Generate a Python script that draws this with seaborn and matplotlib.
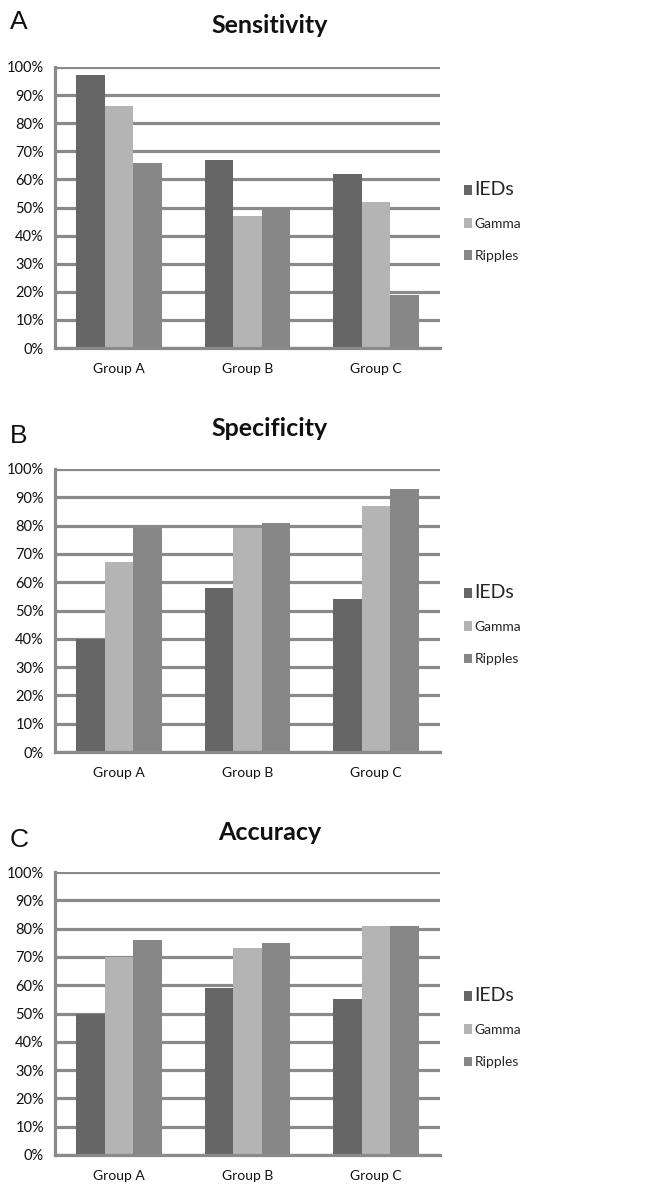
import pandas as pd
import seaborn as sns
import matplotlib.pyplot as plt
from matplotlib.ticker import FuncFormatter, MultipleLocator

# values (percent)
groups = ['Group A', 'Group B', 'Group C']
measures = ['IEDs', 'Gamma', 'Ripples']

sens_ieds = [97, 67, 62]
sens_gamma = [86, 47, 52]
sens_ripples = [66, 50, 19]

spec_ieds = [40, 58, 54]
spec_gamma = [67, 79, 87]
spec_ripples = [79, 81, 93]

acc_ieds = [50, 59, 55]
acc_gamma = [70, 73, 81]
acc_ripples = [76, 75, 81]

panels = [
    ('A', 'Sensitivity', [sens_ieds, sens_gamma, sens_ripples]),
    ('B', 'Specificity', [spec_ieds, spec_gamma, spec_ripples]),
    ('C', 'Accuracy', [acc_ieds, acc_gamma, acc_ripples]),
]

colors = ['#666666', '#b4b4b4', '#878787']
grid_col = '#8a8a8a'

sns.set_theme(style='white')
plt.rcParams['font.family'] = ['Lato', 'DejaVu Sans']

W, H = 652, 1192
fig = plt.figure(figsize=(W / 100, H / 100), dpi=100)

# axes boxes in pixels: (left, top, right, bottom)
boxes = [(55, 67, 440, 348), (55, 469, 440, 752), (55, 872, 440, 1155)]
title_base = [33, 436, 840]
letter_base = [29, 443, 847]

for (letter, title, series), (l, t, r, b), tb, lb in zip(panels, boxes, title_base, letter_base):
    ax = fig.add_axes([l / W, 1 - b / H, (r - l) / W, (b - t) / H])
    rows = []
    for m, vals in zip(measures, series):
        for g, v in zip(groups, vals):
            rows.append({'Group': g, 'Measure': m, 'Value': v})
    df = pd.DataFrame(rows)

    sns.barplot(data=df, x='Group', y='Value', hue='Measure', order=groups,
                hue_order=measures, palette=colors, width=0.67, gap=0,
                saturation=1, linewidth=0, ax=ax)

    ax.set_xlim(-0.5, 2.5)
    ax.set_ylim(0, 100)
    ax.yaxis.set_major_locator(MultipleLocator(10))
    ax.yaxis.set_major_formatter(FuncFormatter(lambda v, p: f'{v:.0f}%'))
    ax.set_axisbelow(True)
    ax.grid(axis='y', color=grid_col, linewidth=2.3)
    ax.grid(axis='x', visible=False)
    for s in ['top', 'right']:
        ax.spines[s].set_visible(False)
    for s in ['left', 'bottom']:
        ax.spines[s].set_color(grid_col)
        ax.spines[s].set_linewidth(2.3)
    ax.tick_params(axis='y', length=0, pad=8, labelsize=10.5, labelcolor='#111111')
    ax.tick_params(axis='x', length=0, pad=11, labelsize=10, labelcolor='#111111')
    ax.set_xlabel('')
    ax.set_ylabel('')

    ax.get_legend().remove()
    handles, labels = ax.get_legend_handles_labels()
    leg = ax.legend(handles, labels, loc='center left', bbox_to_anchor=(1.03, 0.45),
                    frameon=False, handlelength=0.6, handleheight=0.7,
                    handletextpad=0.15, labelspacing=1.45, fontsize=10)
    leg.get_texts()[0].set_fontsize(14)

    fig.text(270 / W, 1 - tb / H, title, ha='center', va='baseline',
             fontsize=18, fontweight='bold', color='#111111')
    fig.text(10 / W, 1 - lb / H, letter, ha='left', va='baseline',
             fontsize=19, family=['Liberation Sans', 'DejaVu Sans'], color='#111111')

fig.savefig('out.png', dpi=100)
